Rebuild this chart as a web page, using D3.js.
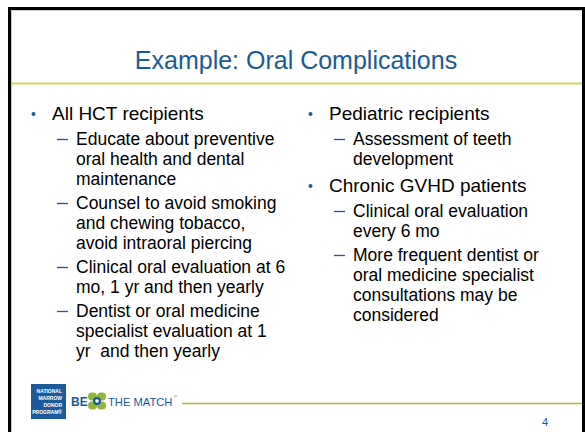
<!DOCTYPE html>
<html>
<head>
<meta charset="utf-8">
<script src="https://cdn.jsdelivr.net/npm/d3@7"></script>
<style>
	body { margin: 0; background: #fff; }
	svg { display: block; font-family: "Liberation Sans", Arial, sans-serif; }
</style>
</head>
<body>
<div id="divSlide"></div>
<script>
'use strict';

const slideWidth = 585;
const slideHeight = 432;

const titleText = 'Example: Oral Complications';
const pageNumber = '4';

// each bullet: heading, then sub items already wrapped as in the slide
const leftHeadings = ['All HCT recipients'];
const leftSubItems = [[
	['Educate about preventive', 'oral health and dental', 'maintenance'],
	['Counsel to avoid smoking', 'and chewing tobacco,', 'avoid intraoral piercing'],
	['Clinical oral evaluation at 6', 'mo, 1 yr and then yearly'],
	['Dentist or oral medicine', 'specialist evaluation at 1', 'yr  and then yearly']
]];
const rightHeadings = ['Pediatric recipients', 'Chronic GVHD patients'];
const rightSubItems = [
	[['Assessment of teeth', 'development']],
	[['Clinical oral evaluation', 'every 6 mo'],
	 ['More frequent dentist or', 'oral medicine specialist', 'consultations may be', 'considered']]
];
const logoWords = ['NATIONAL', 'MARROW', 'DONOR', 'PROGRAM®'];

const blue = '#1b5a98';

const svg = d3.select('#divSlide')
	.append('svg')
	.attr('width', slideWidth)
	.attr('height', slideHeight);

// slide frame
svg.append('path')
	.attr('d', `M9.5,${slideHeight} V8.5 H583.5 V${slideHeight}`)
	.style('fill', 'none')
	.style('stroke', '#000')
	.style('stroke-width', 3);
svg.append('path')
	.attr('d', `M11.5,${slideHeight} V10.5 H582`)
	.style('fill', 'none')
	.style('stroke', '#c8c8c8')
	.style('stroke-width', 1);

svg.append('text')
	.attr('x', 296)
	.attr('y', 69)
	.attr('text-anchor', 'middle')
	.style('font-size', '25px')
	.style('fill', blue)
	.text(titleText);

svg.append('line')
	.attr('x1', 11).attr('x2', 582)
	.attr('y1', 83.5).attr('y2', 83.5)
	.style('stroke', '#d6d35c')
	.style('stroke-width', 2);

function drawColumn(headings, subItems, x0) {
	let y = 120;
	headings.forEach((heading, i) => {
		svg.append('circle')
			.attr('cx', x0 + 1.5).attr('cy', y - 6)
			.attr('r', 2)
			.style('fill', blue);
		svg.append('text')
			.attr('x', x0 + 20).attr('y', y)
			.style('font-size', '19px')
			.style('fill', '#000')
			.text(heading);
		y += 25;
		subItems[i].forEach((lines, j) => {
			svg.append('line')
				.attr('x1', x0 + 25).attr('x2', x0 + 36)
				.attr('y1', y - 5.5).attr('y2', y - 5.5)
				.style('stroke', blue)
				.style('stroke-width', 1.3);
			lines.forEach((line, k) => {
				svg.append('text')
					.attr('x', x0 + 44).attr('y', y + k * 20)
					.style('font-size', '17.5px')
					.style('fill', '#000')
					.style('white-space', 'pre')
					.text(line);
			});
			y += (lines.length - 1) * 20 + (j < subItems[i].length - 1 ? 24 : 27);
		});
	});
}

drawColumn(leftHeadings, leftSubItems, 32);
drawColumn(rightHeadings, rightSubItems, 309);

// footer logo
const logo = svg.append('g');
logo.append('rect')
	.attr('x', 31).attr('y', 384)
	.attr('width', 35).attr('height', 35)
	.style('fill', '#1c5b9b');
logo.selectAll('text.nmdp')
	.data(logoWords)
	.join('text')
	.attr('class', 'nmdp')
	.attr('x', 62)
	.attr('y', (d, i) => 393 + i * 7)
	.attr('text-anchor', 'end')
	.style('font-size', '5px')
	.style('font-weight', 'bold')
	.style('fill', '#fff')
	.text(d => d);

logo.append('text')
	.attr('x', 71).attr('y', 405.5)
	.style('font-size', '12px')
	.style('font-weight', 'bold')
	.style('fill', blue)
	.text('BE');

const iconX = 97;
const iconY = 401;
const lobes = [[-4.5, -4.5], [4.5, -4.5], [-4.5, 4.5], [4.5, 4.5]];
logo.selectAll('rect.lobe')
	.data(lobes)
	.join('rect')
	.attr('class', 'lobe')
	.attr('x', d => iconX + d[0] - 4.5)
	.attr('y', d => iconY + d[1] - 4)
	.attr('width', 9).attr('height', 8)
	.attr('rx', 4)
	.style('fill', '#8fb63c');
logo.append('circle')
	.attr('cx', iconX).attr('cy', iconY)
	.attr('r', 4)
	.style('fill', '#1c5b9b');
logo.append('circle')
	.attr('cx', iconX).attr('cy', iconY)
	.attr('r', 1.8)
	.style('fill', '#fff');

logo.append('text')
	.attr('x', 108).attr('y', 405.5)
	.style('font-size', '11.2px')
	.style('fill', blue)
	.text('THE MATCH');
logo.append('text')
	.attr('x', 174).attr('y', 398)
	.style('font-size', '4px')
	.style('fill', blue)
	.text('®');

svg.append('line')
	.attr('x1', 182).attr('x2', 582)
	.attr('y1', 403.5).attr('y2', 403.5)
	.style('stroke', '#b4bb25')
	.style('stroke-width', 1.3);

svg.append('text')
	.attr('x', 548).attr('y', 426)
	.attr('text-anchor', 'end')
	.style('font-size', '11px')
	.style('fill', blue)
	.text(pageNumber);
</script>
</body>
</html>
